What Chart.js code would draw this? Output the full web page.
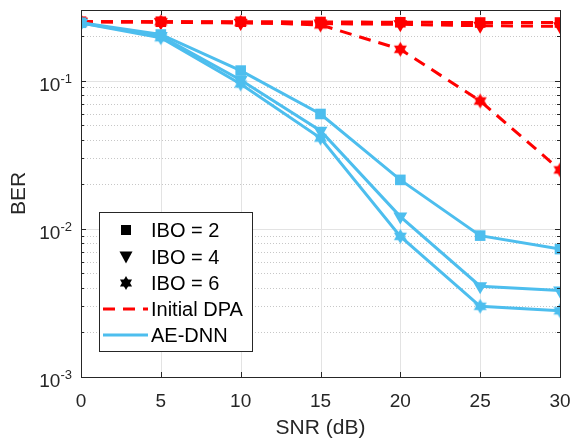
<!DOCTYPE html>
<html>
<head>
<meta charset="utf-8">
<script src="https://cdn.jsdelivr.net/npm/chart.js@4.4.0/dist/chart.umd.min.js"></script>
<style>
  html, body { margin: 0; padding: 0; background: #fff; }
  #wrap { position: relative; width: 573px; height: 443px; }
</style>
</head>
<body>
<div id="wrap"><canvas id="berChart"></canvas></div>
<script>
// --- Data ---
const snr = [0, 5, 10, 15, 20, 25, 30];

const dpaIbo2 = [0.25, 0.25, 0.25, 0.249, 0.248, 0.247, 0.247];
const dpaIbo4 = [0.25, 0.248, 0.245, 0.243, 0.240, 0.235, 0.233];
const dpaIbo6 = [0.25, 0.25, 0.248, 0.238, 0.163, 0.073, 0.025];

const aeIbo2 = [0.246, 0.205, 0.117, 0.0596, 0.0214, 0.0090, 0.0073];
const aeIbo4 = [0.245, 0.200, 0.101, 0.046, 0.0121, 0.0041, 0.00383];
const aeIbo6 = [0.245, 0.195, 0.095, 0.041, 0.0089, 0.0030, 0.0028];

const xTicks = [0, 5, 10, 15, 20, 25, 30];
const yMajor = [0.001, 0.01, 0.1];
const yExp   = ['-3', '-2', '-1'];
const yMinor = [0.002, 0.003, 0.004, 0.005, 0.006, 0.007, 0.008, 0.009,
                0.02, 0.03, 0.04, 0.05, 0.06, 0.07, 0.08, 0.09,
                0.2, 0.3];

const legendLabels = ['IBO = 2', 'IBO = 4', 'IBO = 6', 'Initial DPA', 'AE-DNN'];

const RED  = '#FF0000';
const BLUE = '#4DBEEE';
const FONT = '"Liberation Sans", Arial, sans-serif';

// hexagram marker as a small canvas
function hexagram(color, r) {
  const c = document.createElement('canvas');
  const s = Math.ceil(r * 2 + 2);
  c.width = s; c.height = s;
  const g = c.getContext('2d');
  g.fillStyle = color;
  const cx = s / 2, cy = s / 2;
  [-Math.PI / 2, Math.PI / 2].forEach(a0 => {
    g.beginPath();
    for (let k = 0; k < 3; k++) {
      const a = a0 + k * 2 * Math.PI / 3;
      const px = cx + r * Math.cos(a), py = cy + r * Math.sin(a);
      k ? g.lineTo(px, py) : g.moveTo(px, py);
    }
    g.closePath();
    g.fill();
  });
  return c;
}
const starRed   = hexagram(RED, 7.5);
const starBlue  = hexagram(BLUE, 7.5);
const starBlack = hexagram('#000', 7);

const pts = arr => arr.map((v, i) => ({ x: snr[i], y: v }));

function series(data, color, style, dashed) {
  const base = {
    data: pts(data),
    borderColor: color,
    backgroundColor: color,
    borderWidth: 3,
    pointBorderWidth: 0,
    pointHoverRadius: 7,
    tension: 0,
    fill: false,
  };
  if (dashed) base.borderDash = [12, 8];
  if (style === 'square') { base.pointStyle = 'rect'; base.pointRadius = 7.5; }
  if (style === 'tri') { base.pointStyle = 'triangle'; base.pointRotation = 180; base.pointRadius = 8; }
  if (style === 'star') { base.pointStyle = color === RED ? starRed : starBlue; base.pointRadius = 7; }
  return base;
}

// --- Axes decoration: grid, box, inward ticks, labels, legend ---
const matlabAxes = {
  id: 'matlabAxes',
  beforeDatasetsDraw(chart) {
    const { ctx, chartArea: a, scales: { x, y } } = chart;
    ctx.save();
    // minor grid (dotted)
    ctx.strokeStyle = 'rgba(0,0,0,0.22)';
    ctx.lineWidth = 1;
    ctx.setLineDash([1, 2]);
    yMinor.forEach(v => {
      const py = Math.round(y.getPixelForValue(v)) + 0.5;
      ctx.beginPath(); ctx.moveTo(a.left, py); ctx.lineTo(a.right, py); ctx.stroke();
    });
    // major grid
    ctx.setLineDash([]);
    ctx.strokeStyle = '#e3e3e3';
    yMajor.forEach(v => {
      const py = Math.round(y.getPixelForValue(v)) + 0.5;
      ctx.beginPath(); ctx.moveTo(a.left, py); ctx.lineTo(a.right, py); ctx.stroke();
    });
    xTicks.forEach(v => {
      const px = Math.round(x.getPixelForValue(v)) + 0.5;
      ctx.beginPath(); ctx.moveTo(px, a.top); ctx.lineTo(px, a.bottom); ctx.stroke();
    });
    ctx.restore();
  },
  afterDatasetsDraw(chart) {
    const { ctx, chartArea: a, scales: { x, y } } = chart;
    ctx.save();
    ctx.strokeStyle = '#262626';
    ctx.lineWidth = 1;
    ctx.strokeRect(Math.round(a.left) + 0.5, Math.round(a.top) + 0.5,
                   Math.round(a.right - a.left), Math.round(a.bottom - a.top));
    const tick = (x1, y1, x2, y2) => { ctx.beginPath(); ctx.moveTo(x1, y1); ctx.lineTo(x2, y2); ctx.stroke(); };
    xTicks.forEach(v => {
      const px = Math.round(x.getPixelForValue(v)) + 0.5;
      tick(px, a.bottom, px, a.bottom - 5);
      tick(px, a.top, px, a.top + 5);
    });
    yMajor.forEach(v => {
      const py = Math.round(y.getPixelForValue(v)) + 0.5;
      tick(a.left, py, a.left + 5, py);
      tick(a.right, py, a.right - 5, py);
    });
    yMinor.forEach(v => {
      const py = Math.round(y.getPixelForValue(v)) + 0.5;
      tick(a.left, py, a.left + 3, py);
      tick(a.right, py, a.right - 3, py);
    });

    // tick labels
    ctx.fillStyle = '#262626';
    ctx.font = '19px ' + FONT;
    ctx.textAlign = 'center';
    ctx.textBaseline = 'alphabetic';
    xTicks.forEach(v => ctx.fillText(String(v), x.getPixelForValue(v), a.bottom + 30));
    yMajor.forEach((v, i) => {
      const py = y.getPixelForValue(v);
      ctx.font = '13px ' + FONT;
      ctx.textAlign = 'right';
      const ew = ctx.measureText(yExp[i]).width;
      ctx.fillText(yExp[i], 72, py + 2);
      ctx.font = '19px ' + FONT;
      ctx.fillText('10', 72 - ew, py + 10);
    });

    // axis titles
    ctx.font = '21px ' + FONT;
    ctx.textAlign = 'center';
    ctx.fillText('SNR (dB)', (a.left + a.right) / 2, 434);
    ctx.translate(25, (a.top + a.bottom) / 2);
    ctx.rotate(-Math.PI / 2);
    ctx.fillText('BER', 0, 0);
    ctx.restore();
  },
  afterDraw(chart) {
    const { ctx } = chart;
    ctx.save();
    const bx = 99.5, by = 212.5, bw = 153, bh = 139;
    ctx.fillStyle = '#fff';
    ctx.fillRect(bx, by, bw, bh);
    ctx.strokeStyle = '#262626';
    ctx.lineWidth = 1;
    ctx.strokeRect(bx, by, bw, bh);
    const rows = [230, 257, 283, 309, 335];
    const sx = 126;
    ctx.fillStyle = '#000';
    // square
    ctx.fillRect(sx - 5, rows[0] - 5, 10, 10);
    // triangle down
    ctx.beginPath();
    ctx.moveTo(sx - 6.5, rows[1] - 5.5);
    ctx.lineTo(sx + 6.5, rows[1] - 5.5);
    ctx.lineTo(sx, rows[1] + 6.5);
    ctx.closePath(); ctx.fill();
    // hexagram
    ctx.drawImage(starBlack, sx - starBlack.width / 2, rows[2] - starBlack.height / 2);
    // dashed red line
    ctx.lineWidth = 3;
    ctx.strokeStyle = RED;
    ctx.setLineDash([12, 8]);
    ctx.beginPath(); ctx.moveTo(103, rows[3]); ctx.lineTo(148, rows[3]); ctx.stroke();
    ctx.setLineDash([]);
    ctx.strokeStyle = BLUE;
    ctx.beginPath(); ctx.moveTo(103, rows[4]); ctx.lineTo(148, rows[4]); ctx.stroke();
    // labels
    ctx.fillStyle = '#000';
    ctx.font = '20px ' + FONT;
    ctx.textAlign = 'left';
    ctx.textBaseline = 'middle';
    legendLabels.forEach((t, i) => ctx.fillText(t, 151, rows[i] + 1));
    ctx.restore();
  }
};

new Chart(document.getElementById('berChart'), {
  type: 'line',
  data: {
    datasets: [
      series(aeIbo2, BLUE, 'square', false),
      series(aeIbo4, BLUE, 'tri', false),
      series(aeIbo6, BLUE, 'star', false),
      series(dpaIbo2, RED, 'square', true),
      series(dpaIbo4, RED, 'tri', true),
      series(dpaIbo6, RED, 'star', true),
    ],
  },
  options: {
    responsive: true, maintainAspectRatio: false, animation: false,
    layout: { padding: { left: 0, right: 13, top: 10, bottom: 0 } },
    plugins: { legend: { display: false }, tooltip: { enabled: false } },
    scales: {
      x: {
        type: 'linear', min: 0, max: 30,
        grid: { display: false }, border: { display: false },
        ticks: { display: false },
        afterFit: s => { s.height = 66; },
      },
      y: {
        type: 'logarithmic', min: 0.001, max: 0.3,
        grid: { display: false }, border: { display: false },
        ticks: { display: false },
        afterFit: s => { s.width = 81; },
      },
    },
  },
  plugins: [matlabAxes],
});
</script>
</body>
</html>
